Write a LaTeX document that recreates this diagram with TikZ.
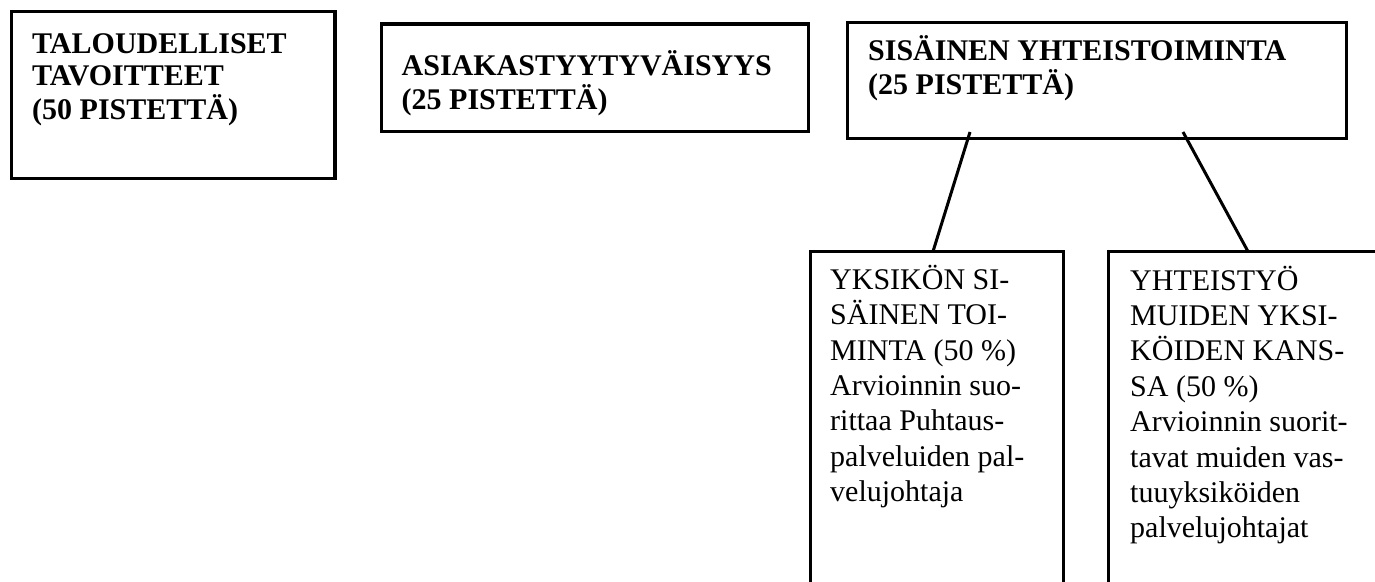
\documentclass[tikz,border=0pt]{standalone}
\usepackage{fontspec}
\setmainfont{Liberation Serif}
% left-aligned lines whose baseline is the baseline of the first line
\newcommand\stackleft[1]{\begin{tabular}[t]{@{}l@{}}#1\end{tabular}}
\begin{document}
\begin{tikzpicture}[x=1pt,y=-1pt,
  topbox/.style={draw, rectangle, line width=3.3pt, inner sep=0pt, outer sep=0pt, anchor=north west},
  subbox/.style={draw, rectangle, line width=3pt, inner sep=0pt, outer sep=0pt, anchor=north west},
  headtxt/.style={anchor=base west, inner sep=0pt,
    font=\fontsize{30}{32}\selectfont\bfseries},
  bodytxt/.style={anchor=base west, inner sep=0pt,
    font=\fontsize{30}{35.4}\selectfont},
  link/.style={line width=3pt}]
\useasboundingbox (0,0) rectangle (1375,581);
\clip (0,0) rectangle (1375,581);

% top row of headline boxes
\node[topbox, minimum width=323.5pt, minimum height=167pt] (fin) at (11.5,11.5) {};
\node[topbox, minimum width=427pt, minimum height=107.5pt] (cust) at (381.5,24) {};
\node[topbox, minimum width=499pt, minimum height=116pt] (coop) at (847.5,22.5) {};

\node[headtxt] (fintxt) at (32,53.3) {\stackleft{TALOUDELLISET\\TAVOITTEET\\(50 PISTETTÄ)}};
\node[headtxt] (custtxt) at (401.5,75) {\stackleft{ASIAKASTYYTYVÄISYYS\\(25 PISTETTÄ)}};
\node[headtxt] (cooptxt) at (868,60) {\stackleft{SISÄINEN YHTEISTOIMINTA\\(25 PISTETTÄ)}};

% the two sub-areas, open at the bottom edge
\node[subbox, minimum width=253pt, minimum height=400pt] (unit) at (810,251.5) {};
\node[subbox, minimum width=300pt, minimum height=400pt] (other) at (1108.5,251.5) {};

\node[bodytxt] (unittxt) at (830,289.3) {\stackleft{YKSIKÖN SI-\\SÄINEN TOI-\\MINTA (50~\%)\\Arvioinnin suo-\\rittaa Puhtaus-\\palveluiden pal-\\velujohtaja}};
\node[bodytxt] (othertxt) at (1130,290) {\stackleft{YHTEISTYÖ\\MUIDEN YKSI-\\KÖIDEN KANS-\\SA (50~\%)\\Arvioinnin suorit-\\tavat muiden vas-\\tuuyksiköiden\\palvelujohtajat}};

% connectors from the headline box down to the sub-areas
\draw[link] ([xshift=122.5pt,yshift=6.5pt]coop.south west) -- ([xshift=123pt]unit.north west);
\draw[link] ([xshift=335.5pt,yshift=6.5pt]coop.south west) -- ([xshift=139.5pt]other.north west);
\end{tikzpicture}
\end{document}
